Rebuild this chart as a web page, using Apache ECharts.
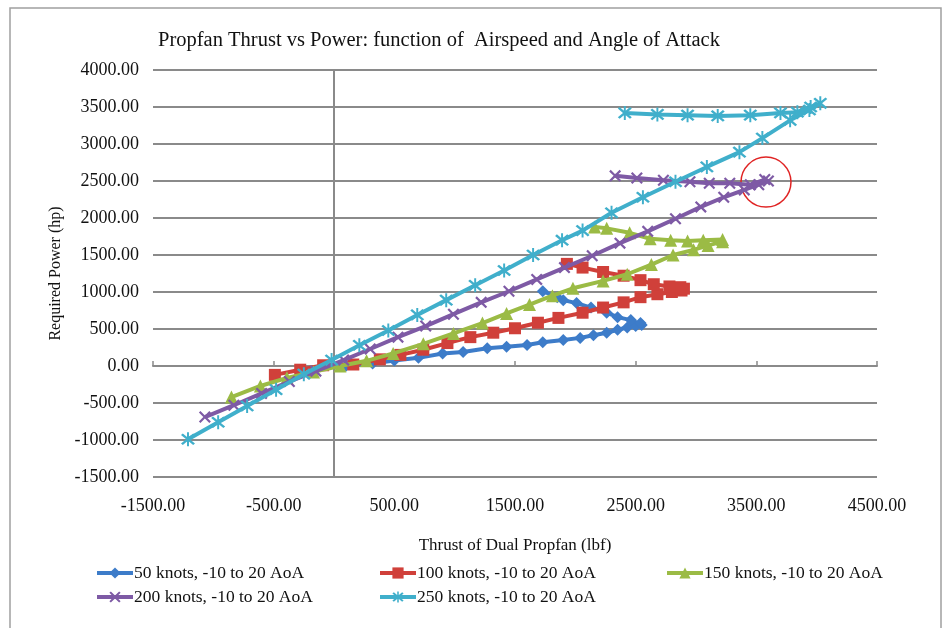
<!DOCTYPE html>
<html>
<head>
<meta charset="utf-8">
<title>Propfan Thrust vs Power</title>
<script src="https://cdn.jsdelivr.net/npm/echarts@6/dist/echarts.min.js"></script>
<style>
    html, body { margin: 0; padding: 0; background: #fff; }
    #chart { width: 945px; height: 628px; }
</style>
</head>
<body>
<div id="chart"></div>
<script>
// [thrust lbf, power hp] for each airspeed, AoA -10 to 20
var knots50 = [
    [100, 5], [320, 35], [500, 75], [700, 110], [900, 170], [1070, 190], [1270, 240],
    [1430, 260], [1600, 285], [1730, 320], [1900, 350], [2040, 380], [2150, 415],
    [2260, 450], [2350, 490], [2430, 520], [2500, 540], [2550, 555], [2540, 580],
    [2460, 620], [2350, 660], [2260, 720], [2130, 790], [2010, 850], [1900, 890],
    [1850, 930], [1730, 1010]
];
var knots100 = [
    [-490, -120], [-280, -50], [-90, 10], [160, 20], [380, 90], [550, 150], [740, 220],
    [940, 310], [1130, 390], [1320, 450], [1500, 510], [1690, 585], [1860, 650],
    [2060, 720], [2230, 790], [2400, 860], [2540, 930], [2680, 970], [2800, 1000],
    [2880, 1020], [2900, 1045], [2870, 1065], [2780, 1075], [2650, 1105], [2540, 1160],
    [2400, 1220], [2230, 1270], [2060, 1330], [1930, 1380]
];
var knots150 = [
    [-850, -420], [-610, -270], [-390, -160], [-170, -80], [50, 0], [270, 70], [490, 170],
    [740, 300], [990, 440], [1230, 580], [1430, 710], [1620, 830], [1810, 950],
    [1980, 1050], [2230, 1150], [2430, 1240], [2630, 1370], [2810, 1500], [2980, 1570],
    [3100, 1630], [3220, 1680], [3220, 1710], [3060, 1700], [2930, 1690], [2790, 1700],
    [2620, 1720], [2450, 1800], [2260, 1860], [2160, 1880]
];
var knots200 = [
    [-1070, -690], [-830, -530], [-600, -370], [-370, -210], [-150, -70], [80, 80],
    [300, 230], [530, 390], [760, 540], [990, 700], [1220, 860], [1450, 1010],
    [1680, 1170], [1910, 1330], [2140, 1490], [2370, 1660], [2600, 1820], [2830, 1990],
    [3040, 2150], [3230, 2280], [3400, 2380], [3520, 2450], [3600, 2500], [3570, 2520],
    [3450, 2450], [3280, 2470], [3110, 2470], [2950, 2490], [2730, 2510], [2510, 2540],
    [2330, 2570]
];
var knots250 = [
    [-1210, -990], [-960, -760], [-720, -540], [-480, -320], [-250, -110], [-20, 80],
    [210, 280], [450, 480], [690, 690], [930, 890], [1170, 1090], [1410, 1290],
    [1650, 1500], [1890, 1700], [2060, 1830], [2300, 2070], [2560, 2280], [2830, 2490],
    [3090, 2690], [3360, 2890], [3550, 3080], [3780, 3320], [3940, 3460], [4030, 3550],
    [3950, 3500], [3840, 3430], [3700, 3420], [3450, 3390], [3180, 3380], [2930, 3390],
    [2680, 3400], [2410, 3420]
];
var seriesNames = [
    '50 knots, -10 to 20 AoA',
    '100 knots, -10 to 20 AoA',
    '150 knots, -10 to 20 AoA',
    '200 knots, -10 to 20 AoA',
    '250 knots, -10 to 20 AoA'
];
var seriesData = [knots50, knots100, knots150, knots200, knots250];
var circledPoint = [3580, 2485];

var colors = ['#3D7CC9', '#D0403A', '#9BBB45', '#7E5AA5', '#40AFCB'];
var xSymbol = 'path://M0,1.3L1.3,0L5,3.7L8.7,0L10,1.3L6.3,5L10,8.7L8.7,10L5,6.3L1.3,10L0,8.7L3.7,5Z';
var starSymbol = 'path://M0,1.3L1.3,0L5,3.7L8.7,0L10,1.3L6.3,5L10,8.7L8.7,10L5,6.3L1.3,10L0,8.7L3.7,5Z' +
    'M4.3,-1L5.7,-1L5.7,11L4.3,11Z';
var symbols = ['diamond', 'rect', 'triangle', xSymbol, starSymbol];
var symbolSizes = [12, 12, 13, 12, 14];

var serif = "'Liberation Serif', 'Times New Roman', serif";
var gridColor = '#8a8a8a';

loadPropfanChart();

function loadPropfanChart() {
    var chart = echarts.init(document.getElementById('chart'));

    var series = seriesData.map(function (d, i) {
        var s = {
            name: seriesNames[i],
            type: 'line',
            data: d,
            symbol: symbols[i],
            symbolSize: symbolSizes[i],
            showAllSymbol: true,
            color: colors[i],
            lineStyle: { width: 4, color: colors[i] },
            itemStyle: { color: colors[i] },
            z: 3 + i
        };
        if (i === 3) {
            // red ring round the 200 knots turn-back point
            s.markPoint = {
                symbol: 'circle',
                symbolSize: 50,
                silent: true,
                label: { show: false },
                itemStyle: { color: 'rgba(0,0,0,0)', borderColor: '#E02424', borderWidth: 1.5 },
                data: [{ coord: circledPoint }]
            };
        }
        return s;
    });

    var legendLeft = [95, 378, 665, 95, 378];
    var legendTop = [564, 564, 564, 588, 588];
    var legends = seriesNames.map(function (name, i) {
        return {
            data: [name],
            left: legendLeft[i],
            top: legendTop[i],
            padding: 0,
            itemWidth: 36,
            itemHeight: 14,
            itemGap: 2,
            lineStyle: { width: 4 },
            textStyle: { fontFamily: serif, fontSize: 17.5, color: '#111', padding: [0, 0, 0, -4] }
        };
    });

    chart.setOption({
        backgroundColor: '#fff',
        animation: false,
        title: {
            text: 'Propfan Thrust vs Power: function of  Airspeed and Angle of Attack',
            left: 434,
            textAlign: 'center',
            top: 25,
            textStyle: { fontFamily: serif, fontSize: 20.5, fontWeight: 'normal', color: '#111' }
        },
        graphic: [{
            type: 'rect',
            shape: { x: 10, y: 8, width: 931, height: 640 },
            style: { fill: 'none', stroke: '#a0a0a0', lineWidth: 1.5 },
            silent: true
        }],
        legend: legends,
        grid: { left: 153, right: 68, top: 70, bottom: 151 },
        xAxis: [{
            type: 'value',
            min: -1500,
            max: 4500,
            interval: 1000,
            name: 'Thrust of Dual Propfan (lbf)',
            nameLocation: 'middle',
            nameGap: 60,
            nameTextStyle: { fontFamily: serif, fontSize: 17, color: '#111' },
            axisLine: { show: false, onZero: false },
            axisTick: { show: false },
            splitLine: { show: false },
            axisLabel: {
                margin: 20,
                fontFamily: serif,
                fontSize: 18,
                color: '#111',
                formatter: function (v) { return v.toFixed(2); }
            }
        }, {
            type: 'value',
            min: -1500,
            max: 4500,
            interval: 1000,
            axisLine: { show: true, onZero: true, lineStyle: { color: gridColor, width: 2 } },
            axisTick: { show: true, length: 5, lineStyle: { color: gridColor, width: 1.5 } },
            axisLabel: { show: false },
            splitLine: { show: false }
        }],
        yAxis: [{
            type: 'value',
            min: -1500,
            max: 4000,
            interval: 500,
            name: 'Required Power (hp)',
            nameLocation: 'middle',
            nameGap: 86,
            nameRotate: 90,
            nameTextStyle: { fontFamily: serif, fontSize: 16, color: '#111' },
            axisLine: { show: false, onZero: false },
            axisTick: { show: false },
            splitLine: { show: true, lineStyle: { color: gridColor, width: 2 } },
            axisLabel: {
                margin: 14,
                fontFamily: serif,
                fontSize: 18,
                color: '#111',
                formatter: function (v) { return v.toFixed(2); }
            }
        }, {
            type: 'value',
            min: -1500,
            max: 4000,
            interval: 500,
            axisLine: { show: true, onZero: true, lineStyle: { color: gridColor, width: 2 } },
            axisTick: { show: false },
            axisLabel: { show: false },
            splitLine: { show: false }
        }],
        series: series
    });
}
</script>
</body>
</html>
